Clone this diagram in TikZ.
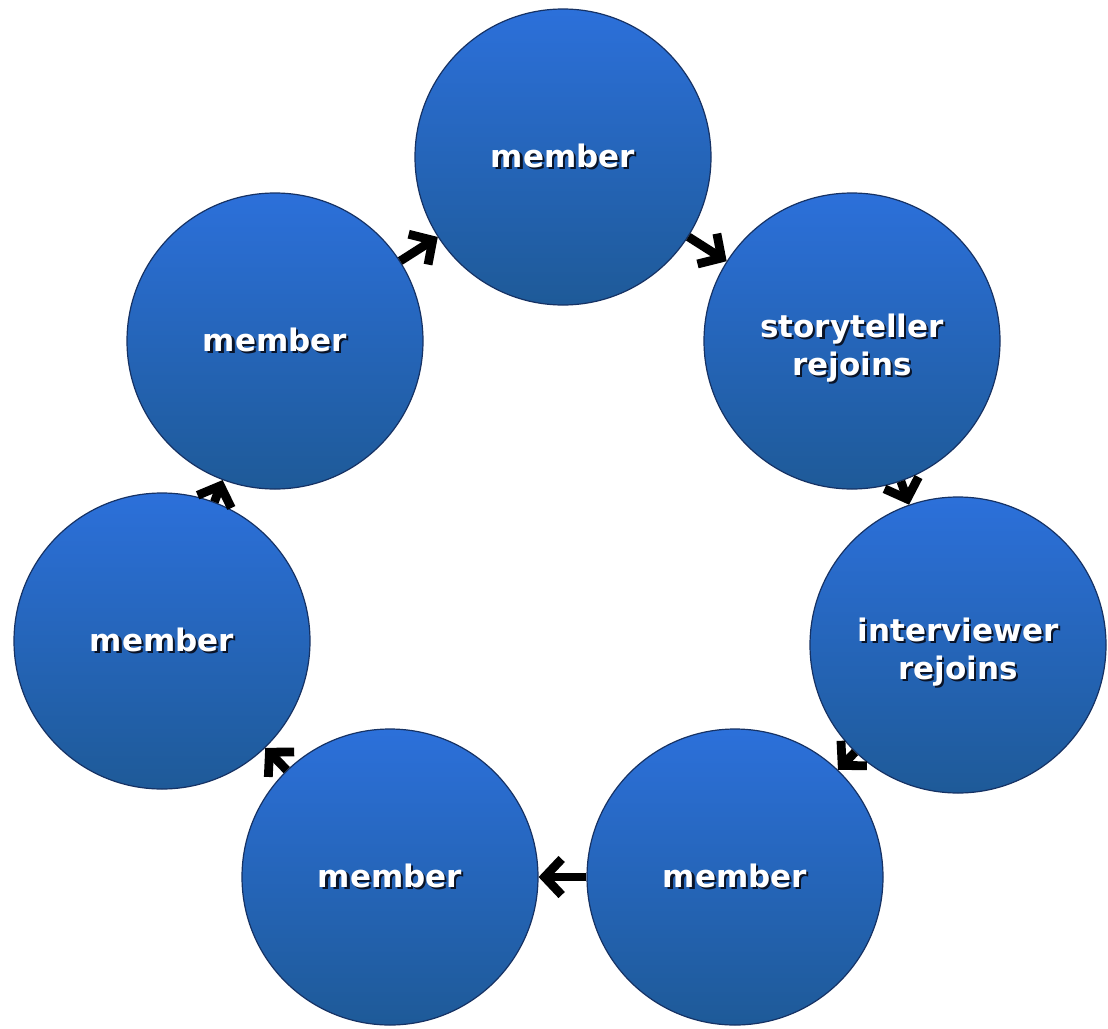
\documentclass[tikz,border=0pt]{standalone}
\usepackage{fontspec}
\setmainfont{DejaVu Sans}
\usetikzlibrary{arrows.meta}
\definecolor{circtop}{RGB}{44,112,218}
\definecolor{circbot}{RGB}{30,90,152}
\definecolor{circline}{RGB}{22,50,100}
\definecolor{shadowcol}{RGB}{10,20,40}
\newcommand\shtxt[1]{\leavevmode\rlap{\hspace{1.1pt}\raisebox{-1.1pt}{\textcolor{shadowcol}{#1}}}#1}
\tikzset{
  member/.style={circle, minimum size=148pt, inner sep=0pt, draw=circline, line width=0.6pt,
    top color=circtop, bottom color=circbot, shading angle=0,
    text=white, font=\fontsize{15.5}{19}\selectfont\bfseries, align=center},
  flow/.style={line width=4.4pt, draw=black, -{Straight Barb[length=8.5pt,width=18pt]}},
}
\begin{document}
\begin{tikzpicture}[x=0.5pt,y=-0.5pt]
\useasboundingbox[fill=white] (0,0) rectangle (1108,1028);
\node[member] (top) at (563,157) {\shtxt{member}};
\node[member] (story) at (852,341) {\rule{0pt}{20pt}\shtxt{storyteller}\\\shtxt{rejoins}};
\node[member] (inter) at (958,645) {\rule{0pt}{20pt}\shtxt{interviewer}\\\shtxt{rejoins}};
\node[member] (br) at (735,877) {\shtxt{member}};
\node[member] (bl) at (390,877) {\shtxt{member}};
\node[member] (left) at (162,641) {\shtxt{member}};
\node[member] (ul) at (275,341) {\shtxt{member}};
\draw[flow] (top) -- (story);
\draw[flow] (story) -- (inter);
\draw[flow] (inter) -- (br);
\draw[flow] (br) -- (bl);
\draw[flow] (bl) -- (left);
\draw[flow] (left) -- (ul);
\draw[flow] (ul) -- (top);
\end{tikzpicture}
\end{document}
